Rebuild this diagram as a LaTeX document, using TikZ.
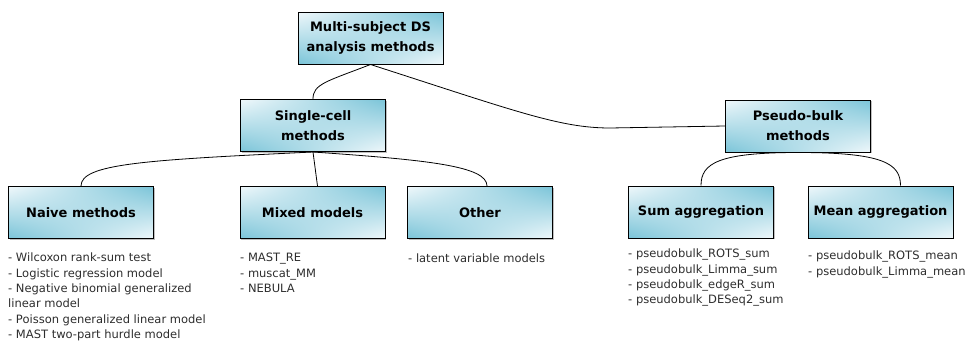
\documentclass[tikz,border=0pt]{standalone}
\usepackage{fontspec}
\setmainfont{DejaVu Sans}
\usetikzlibrary{shadows,shadings}
\definecolor{boxteal}{RGB}{122,196,216}
\definecolor{boxlight}{RGB}{240,248,251}
\definecolor{listgray}{RGB}{45,45,45}
\begin{document}
\begin{tikzpicture}[x=1pt,y=-1pt,
  catbox/.style={draw=black, line width=1pt, minimum width=145pt, minimum height=52pt,
    inner sep=2pt, align=center,
    font=\fontsize{13}{20}\selectfont\bfseries,
    upper left=boxlight, lower right=boxlight, upper right=boxteal, lower left=boxteal,
    drop shadow={shadow xshift=1pt, shadow yshift=-1pt, fill=black, opacity=0.25}},
  methlist/.style={anchor=north west, inner sep=0pt, align=left, text=listgray,
    font=\fontsize{11.5}{15.3}\selectfont},
  conn/.style={draw=black, line width=0.8pt}]
\useasboundingbox (0,0) rectangle (977,340);

\node[catbox] (top) at (370.5,38) {Multi-subject DS\\analysis methods};
\node[catbox] (single) at (313,125.5) {Single-cell\\methods};
\node[catbox] (pseudo) at (798,126) {Pseudo-bulk\\methods};
\node[catbox] (naive) at (81,212.5) {Naive methods};
\node[catbox] (mixed) at (312.5,212.5) {Mixed models};
\node[catbox] (other) at (480,212.5) {Other};
\node[catbox] (sum) at (701,212) {Sum aggregation};
\node[catbox] (mean) at (880.5,212) {Mean aggregation};

\coordinate (pbend) at (610,128);

\draw[conn] (top.south) .. controls +(-44,17) and +(0,-15) .. (single.north);
\draw[conn] (top.south) .. controls +(146,47) and +(-50,0) .. (pbend) -- (pseudo.west);
\draw[conn] (single.south) .. controls +(-170,8) and +(0,-22) .. (naive.north);
\draw[conn] (single.south) -- ([xshift=5pt]mixed.north);
\draw[conn] (single.south) .. controls +(115,8) and +(0,-20) .. ([xshift=7pt]other.north);
\draw[conn] (pseudo.south) .. controls +(-80,0) and +(0,-22) .. (sum.north);
\draw[conn] (pseudo.south) .. controls +(85,0) and +(0,-22) .. ([xshift=20pt]mean.north);

\node[methlist] (naivelist) at (8,253) {- Wilcoxon rank-sum test\\- Logistic regression model\\- Negative binomial generalized\\linear model\\- Poisson generalized linear model\\- MAST two-part hurdle model};
\node[methlist] (mixedlist) at (240,253) {- MAST\_RE\\- muscat\_MM\\- NEBULA};
\node[methlist] (otherlist) at (408,254) {- latent variable models};
\node[methlist] (sumlist) at (628,249) {- pseudobulk\_ROTS\_sum\\- pseudobulk\_Limma\_sum\\- pseudobulk\_edgeR\_sum\\- pseudobulk\_DESeq2\_sum};
\node[methlist] (meanlist) at (808,251) {- pseudobulk\_ROTS\_mean\\- pseudobulk\_Limma\_mean};
\end{tikzpicture}
\end{document}
